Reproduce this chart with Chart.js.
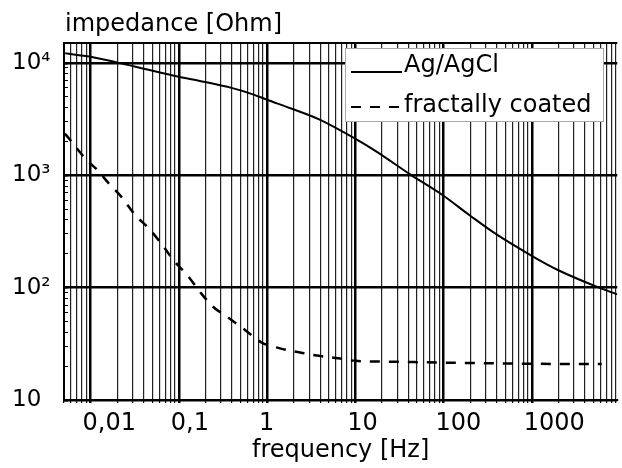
<!DOCTYPE html>
<html>
<head>
<meta charset="utf-8">
<script src="https://cdn.jsdelivr.net/npm/chart.js@4/dist/chart.umd.min.js"></script>
<style>
html, body { margin: 0; padding: 0; background: #fff; }
#wrap { width: 622px; height: 468px; }
</style>
</head>
<body>
<div id="wrap"><canvas id="impChart"></canvas></div>
<script>
// Ag/AgCl electrode (solid)
var freqAg = [0.00516, 0.01, 0.0323, 0.1, 0.173, 0.405, 0.64, 1, 1.91, 3.83, 9.95, 16.7, 42.2, 99, 199, 399, 1009, 2030, 5695, 9300];
var zAg = [12140, 11310, 9215, 7510, 6900, 5950, 5350, 4692, 3900, 3150, 2113, 1654, 1012, 659, 438, 297, 191, 142, 100.4, 87];

// fractally coated electrode (dashed)
var freqFc = [0.0051, 0.0057, 0.0087, 0.012, 0.016, 0.0225, 0.032, 0.045, 0.065, 0.088, 0.124, 0.173, 0.242, 0.365, 0.55, 0.86, 1.4, 2.3, 3.5, 6.4, 10, 20, 100, 1000, 6200];
var zFc = [2350, 2120, 1410, 1107, 849, 638, 443, 340, 240, 173, 130, 92, 68, 54, 42.5, 32.6, 28.8, 26.6, 25, 23.5, 22.3, 22, 21.5, 21, 20.9];

var seriesNames = ["Ag/AgCl", "fractally coated"];

var xTickValues = [0.01, 0.1, 1, 10, 100, 1000];
var xTickLabels = ["0,01", "0,1", "1", "10", "100", "1000"];
var yTickValues = [10, 100, 1000, 10000];
var yTickLabels = ["10", "10²", "10³", "10⁴"];

var xTitle = "frequency [Hz]";
var yTitle = "impedance [Ohm]";

var FONT = "'DejaVu Sans', sans-serif";

function toPoints(xs, ys) {
    let pts = [];
    for (let i = 0; i < xs.length; i++) {
        pts.push({ x: xs[i], y: ys[i] });
    }
    return pts;
}

// every 1..9 x 10^n inside the range, for the log grid
function logTicks(scale) {
    let ticks = [];
    for (let e = -4; e <= 5; e++) {
        for (let k = 1; k <= 9; k++) {
            let v = k * Math.pow(10, e);
            if (v >= scale.min * 0.9999 && v <= scale.max) ticks.push({ value: v });
        }
    }
    scale.ticks = ticks;
}

function isMajor(list, v) {
    return list.some((m) => Math.abs(m - v) / m < 1e-6);
}

// top frame, y title and boxed legend
const extras = {
    id: "extras",
    afterDraw(chart) {
        const ctx = chart.ctx;
        const a = chart.chartArea;
        ctx.save();
        ctx.strokeStyle = "#000";
        ctx.lineWidth = 2;
        ctx.beginPath();
        ctx.moveTo(a.left, a.top);
        ctx.lineTo(a.right, a.top);
        ctx.stroke();

        ctx.fillStyle = "#000";
        ctx.font = "24px " + FONT;
        ctx.textAlign = "left";
        ctx.textBaseline = "alphabetic";
        ctx.fillText(yTitle, a.left + 1, a.top - 12);

        // legend box
        const x0 = a.left + 281, y0 = a.top + 5, w = 258, h = 73;
        ctx.fillStyle = "#fff";
        ctx.fillRect(x0, y0, w, h);
        ctx.strokeStyle = "#aaa";
        ctx.lineWidth = 1;
        ctx.strokeRect(x0 + 0.5, y0 + 0.5, w, h);

        const rows = [
            { ly: y0 + 24, ty: y0 + 24 },
            { ly: y0 + 59, ty: y0 + 64 },
        ];
        chart.data.datasets.forEach((ds, i) => {
            ctx.strokeStyle = "#000";
            ctx.lineWidth = 2;
            ctx.setLineDash(ds.borderDash || []);
            ctx.beginPath();
            ctx.moveTo(x0 + 6, rows[i].ly);
            ctx.lineTo(x0 + 57, rows[i].ly);
            ctx.stroke();
            ctx.setLineDash([]);
            ctx.fillStyle = "#000";
            ctx.font = "24px " + FONT;
            ctx.fillText(ds.label, x0 + 59, rows[i].ty);
        });
        ctx.restore();
    },
};

new Chart("impChart", {
    type: "line",
    data: {
        datasets: [
            {
                label: seriesNames[0],
                data: toPoints(freqAg, zAg),
                borderColor: "#000",
                borderWidth: 2,
                pointRadius: 0,
                cubicInterpolationMode: "monotone",
            },
            {
                label: seriesNames[1],
                data: toPoints(freqFc, zFc),
                borderColor: "#000",
                borderWidth: 2.5,
                borderDash: [10, 9],
                pointRadius: 0,
                cubicInterpolationMode: "monotone",
            },
        ],
    },
    options: {
        responsive: true,
        maintainAspectRatio: false,
        animation: false,
        layout: { padding: { left: 12, top: 43, right: 0, bottom: 0 } },
        plugins: {
            legend: { display: false },
            tooltip: { enabled: false },
        },
        scales: {
            x: {
                type: "logarithmic",
                min: 0.005,
                max: 9300,
                afterBuildTicks: logTicks,
                afterFit: (scale) => { scale.height = 68; },
                grid: {
                    color: (c) => (c.tick && isMajor(xTickValues, c.tick.value) ? "#000" : "#222"),
                    lineWidth: (c) => (c.tick && isMajor(xTickValues, c.tick.value) ? 2.5 : 1.2),
                    tickColor: "#000",
                    tickLength: 3,
                },
                border: { color: "#000", width: 2 },
                ticks: {
                    autoSkip: false,
                    maxRotation: 0,
                    align: "start",
                    labelOffset: -8,
                    padding: 6,
                    color: "#000",
                    font: { family: FONT, size: 24 },
                    callback: function (v) {
                        let i = xTickValues.findIndex((m) => Math.abs(m - v) / m < 1e-6);
                        return i >= 0 ? xTickLabels[i] : "";
                    },
                },
                title: {
                    display: true,
                    text: xTitle,
                    color: "#000",
                    font: { family: FONT, size: 24 },
                    padding: { top: 0, bottom: 3 },
                },
            },
            y: {
                type: "logarithmic",
                min: 10,
                max: 15000,
                afterBuildTicks: logTicks,
                afterFit: (scale) => { scale.width = 52; },
                grid: {
                    color: (c) => (c.tick && isMajor(yTickValues, c.tick.value) ? "#000" : "rgba(0,0,0,0)"),
                    lineWidth: (c) => (c.tick && isMajor(yTickValues, c.tick.value) ? 2.5 : 1),
                    tickColor: "#000",
                    tickLength: -4,
                },
                border: { color: "#000", width: 2 },
                ticks: {
                    autoSkip: false,
                    crossAlign: "far",
                    color: "#000",
                    font: { family: FONT, size: 23 },
                    callback: function (v) {
                        let i = yTickValues.findIndex((m) => Math.abs(m - v) / m < 1e-6);
                        return i >= 0 ? yTickLabels[i] : "";
                    },
                },
            },
        },
    },
    plugins: [extras],
});
</script>
</body>
</html>
